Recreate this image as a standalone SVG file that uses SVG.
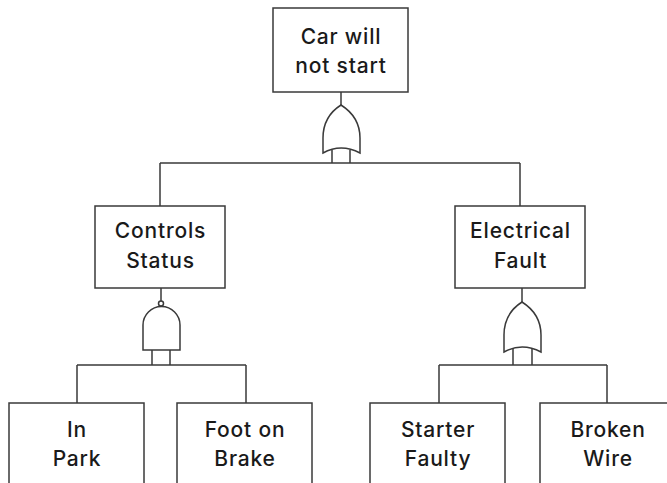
<svg xmlns="http://www.w3.org/2000/svg" width="667" height="483" viewBox="0 0 667 483">
<style>
.box{fill:#fff;stroke:#3a3a3a;stroke-width:1.5}
.ln{fill:none;stroke:#3a3a3a;stroke-width:1.5}
.gate{fill:#fff;stroke:#3a3a3a;stroke-width:1.5}
text{font-family:Inter,"Liberation Sans",sans-serif;font-size:21px;font-weight:500;letter-spacing:0.8px;fill:#1a1a1a;text-anchor:middle}
</style>
<rect width="667" height="483" fill="#fff"/>
<g id="connectors">
<path class="ln" d="M341,92 V105"/>
<path class="ln" d="M332,150 V163 M350,150 V163 M160,163 H520 M160,163 V206 M520,163 V206"/>
<path class="ln" d="M161,288 V301"/>
<path class="ln" d="M152,350 V365 M170,350 V365 M77,365 H246 M77,365 V403 M246,365 V403"/>
<path class="ln" d="M522,288 V302"/>
<path class="ln" d="M513,349 V365 M532,349 V365 M439,365 H607 M439,365 V403 M607,365 V403"/>
</g>
<g id="gate-top">
<path class="gate" d="M341,105 C330,112 323,123 323,138 L323,153 Q341,143 360,153 L360,138 C360,123 352,112 341,105 Z"/>
</g>
<g id="gate-and">
<path class="gate" d="M143,350 L143,325 A18.5,18.5 0 0 1 180,325 L180,350 Z"/>
<circle class="gate" cx="161" cy="303.5" r="2.5"/>
</g>
<g id="gate-right">
<path class="gate" d="M522,302 C511,309 504,320 504,335 L504,352 Q522,342 541,352 L541,335 C541,320 533,309 522,302 Z"/>
</g>
<g id="top">
<rect class="box" x="273" y="8" width="135" height="84"/>
<text x="341" y="44">Car will</text>
<text x="341" y="73">not start</text>
</g>
<g id="controls">
<rect class="box" x="95" y="206" width="130" height="82"/>
<text x="160.5" y="238">Controls</text>
<text x="160.5" y="268">Status</text>
</g>
<g id="electrical">
<rect class="box" x="455" y="206" width="130" height="82"/>
<text x="520.5" y="238">Electrical</text>
<text x="520.5" y="268">Fault</text>
</g>
<g id="park">
<rect class="box" x="9" y="403" width="135" height="90"/>
<text x="77" y="437">In</text>
<text x="77" y="466">Park</text>
</g>
<g id="brake">
<rect class="box" x="177" y="403" width="135" height="90"/>
<text x="245" y="437">Foot on</text>
<text x="245" y="466">Brake</text>
</g>
<g id="starter">
<rect class="box" x="370" y="403" width="135" height="90"/>
<text x="438" y="437">Starter</text>
<text x="438" y="466">Faulty</text>
</g>
<g id="wire">
<rect class="box" x="540" y="403" width="135" height="90"/>
<text x="608" y="437">Broken</text>
<text x="608" y="466">Wire</text>
</g>
</svg>
